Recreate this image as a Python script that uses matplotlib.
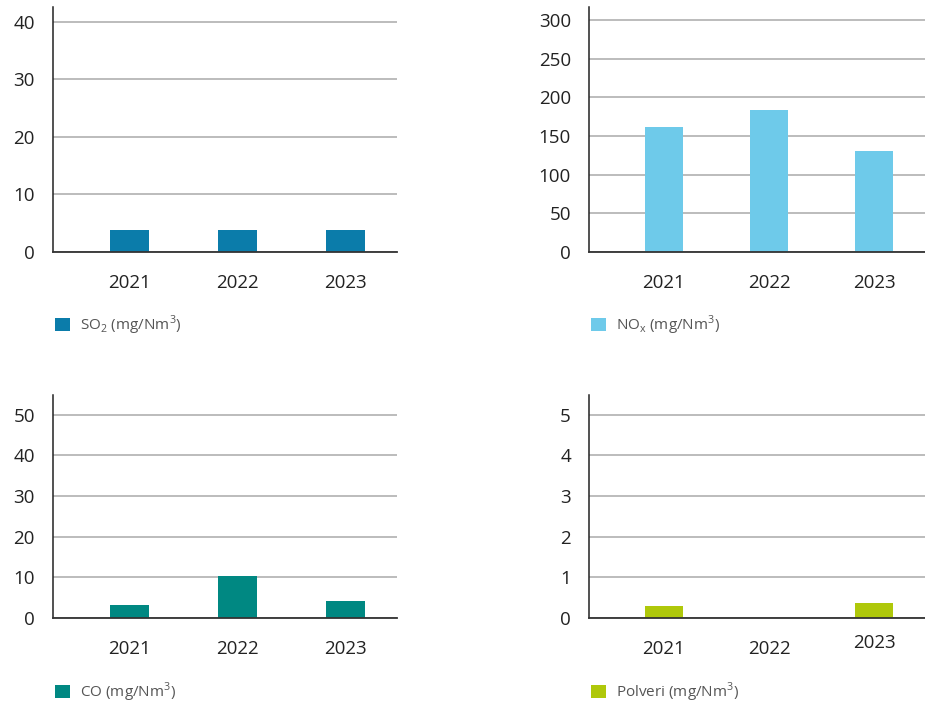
import matplotlib
matplotlib.use('Agg')
import matplotlib.pyplot as plt
from matplotlib.patches import Patch

plt.rcParams['font.family'] = ['Open Sans', 'DejaVu Sans']
plt.rcParams['mathtext.fontset'] = 'custom'
plt.rcParams['mathtext.rm'] = 'Open Sans'

years = ['2021', '2022', '2023']

so2 = [3.8, 3.8, 3.8]
nox = [162, 184, 131]
co = [3.1, 10.2, 4.1]
polveri = [0.29, 0, 0.36]

panels = [
    # values, colour, ylim top, ticks, legend label, axes rect, legend y (px)
    (so2, '#0b7caa', 42.6, [0, 10, 20, 30, 40],
     r'SO$_{\mathregular{2}}$ (mg/Nm$^{\mathregular{3}}$)',
     [53, 7, 397, 252], 325),
    (nox, '#6ecaea', 317, [0, 50, 100, 150, 200, 250, 300],
     r'NO$_{\mathregular{x}}$ (mg/Nm$^{\mathregular{3}}$)',
     [589, 7, 925, 252], 325),
    (co, '#008882', 54.8, [0, 10, 20, 30, 40, 50],
     r'CO (mg/Nm$^{\mathregular{3}}$)',
     [53, 395, 397, 618], 692),
    (polveri, '#afc80a', 5.48, [0, 1, 2, 3, 4, 5],
     r'Polveri (mg/Nm$^{\mathregular{3}}$)',
     [589, 395, 925, 618], 692),
]

W, H = 925, 705
fig = plt.figure(figsize=(W / 100, H / 100), dpi=100)

for i, (vals, col, top, ticks, lab, (x0, y0, x1, y1), ly) in enumerate(panels):
    ax = fig.add_axes([x0 / W, 1 - y1 / H, (x1 - x0) / W, (y1 - y0) / H])
    pos = range(len(years))
    ax.bar(pos, vals, width=0.36, color=col, zorder=2)
    ax.set_xlim(-0.71, 2.48)
    ax.set_ylim(0, top)
    ax.set_yticks(ticks)
    ax.set_xticks(list(pos))
    ax.set_xticklabels(years)
    ax.grid(axis='y', color='#b0b0b0', linewidth=1.2, zorder=0)
    ax.set_axisbelow(True)
    for s in ['top', 'right']:
        ax.spines[s].set_visible(False)
    ax.spines['left'].set_color('#222222')
    ax.spines['bottom'].set_color('#333333')
    ax.spines['left'].set_linewidth(1.1)
    ax.spines['bottom'].set_linewidth(1.3)
    ax.spines['bottom'].set_zorder(3)
    ax.tick_params(axis='y', length=0, pad=13, labelsize=13.5, labelcolor='#222222')
    ax.tick_params(axis='x', length=0, pad=15.5, labelsize=13.5, labelcolor='#222222')
    if i == 3:
        ax.xaxis.get_major_ticks()[2].set_pad(11.5)
    h = Patch(facecolor=col, edgecolor='none', label=lab)
    ax.legend(handles=[h], loc='center left', frameon=False,
              bbox_to_anchor=((x0 + 2) / W, 1 - ly / H),
              bbox_transform=fig.transFigure,
              borderpad=0, borderaxespad=0, fontsize=11,
              handlelength=0.95, handleheight=0.95, handletextpad=0.7,
              labelcolor='#555555')

fig.savefig('out.png', dpi=100)
